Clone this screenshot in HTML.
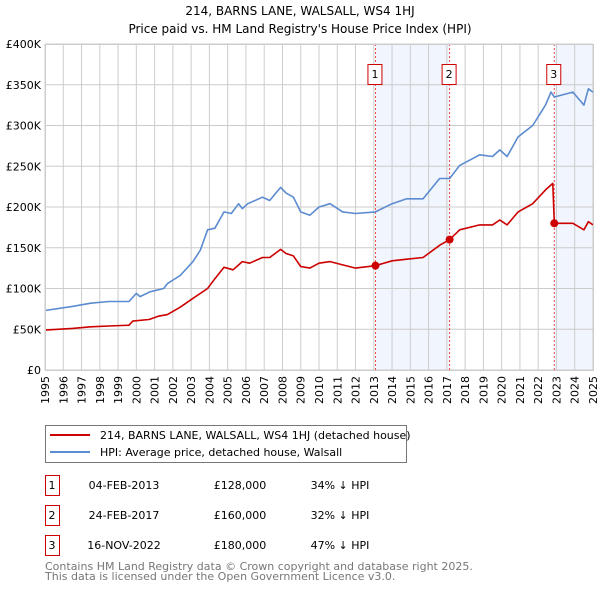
<!DOCTYPE html>
<html><head><meta charset="utf-8"><style>
body{margin:0;background:#fff;font-family:"DejaVu Sans","Liberation Sans",sans-serif;}
svg text{font-family:"DejaVu Sans","Liberation Sans",sans-serif;}
</style></head><body>
<svg id="chart" width="600" height="590" xmlns="http://www.w3.org/2000/svg">
<text x="300" y="15" text-anchor="middle" font-size="12" fill="#000">214, BARNS LANE, WALSALL, WS4 1HJ</text>
<text x="300" y="33" text-anchor="middle" font-size="12" fill="#000">Price paid vs. HM Land Registry's House Price Index (HPI)</text>
<g id="plot"></g>
<g>
<rect x="45.5" y="425.5" width="361" height="37" fill="#fff" stroke="#777"/>
<line x1="50" y1="435" x2="90" y2="435" stroke="#cc0000" stroke-width="2"/>
<text x="100" y="439" font-size="11">214, BARNS LANE, WALSALL, WS4 1HJ (detached house)</text>
<line x1="50" y1="452" x2="90" y2="452" stroke="#5b8bd0" stroke-width="2"/>
<text x="100" y="456" font-size="11">HPI: Average price, detached house, Walsall</text>
</g>
<g id="table" font-size="11"></g>
<text x="45" y="570" font-size="11" fill="#777">Contains HM Land Registry data © Crown copyright and database right 2025.</text>
<text x="45" y="580" font-size="11" fill="#777">This data is licensed under the Open Government Licence v3.0.</text>
</svg>
<script>
const yTicks=[0,50,100,150,200,250,300,350,400];
const yTickLabels=["£0","£50K","£100K","£150K","£200K","£250K","£300K","£350K","£400K"];
const xYears=[1995,1996,1997,1998,1999,2000,2001,2002,2003,2004,2005,2006,2007,2008,2009,2010,2011,2012,2013,2014,2015,2016,2017,2018,2019,2020,2021,2022,2023,2024,2025];
const hpiT=[1995,1996.5,1997.5,1998.5,1999.6,2000,2000.2,2000.75,2001.5,2001.7,2002.4,2003.1,2003.5,2003.9,2004.3,2004.8,2005.2,2005.6,2005.8,2006.1,2006.9,2007.3,2007.9,2008.2,2008.6,2009.0,2009.5,2010.0,2010.6,2011.3,2012.0,2013.09,2014.0,2014.8,2015.7,2016.6,2017.15,2017.7,2018.8,2019.5,2019.9,2020.3,2020.9,2021.7,2022.4,2022.7,2022.88,2023.9,2024.5,2024.75,2025.0];
const hpiV=[73,78,82,84,84,94,90,96,100,106,116,133,147,172,174,194,192,204,198,204,212,208,224,217,212,194,190,200,204,194,192,194,204,210,210,235,235,251,264,262,270,262,286,300,325,341,335,341,325,345,341];
const priceT=[1995,1996.5,1997.5,1998.5,1999.6,1999.8,2000.7,2001.2,2001.7,2002.4,2003.1,2003.9,2004.3,2004.8,2005.3,2005.8,2006.2,2006.9,2007.3,2007.9,2008.2,2008.6,2009.0,2009.5,2010.0,2010.6,2011.3,2012.0,2013.09,2014.0,2014.8,2015.7,2016.6,2017.15,2017.7,2018.8,2019.5,2019.9,2020.3,2020.9,2021.7,2022.4,2022.8,2022.88,2023.9,2024.5,2024.75,2025.0];
const priceV=[49,51,53,54,55,60,62,66,68,77,88,100,112,126,123,133,131,138,138,148,143,140,127,125,131,133,129,125,128,134,136,138,153,160,172,178,178,184,178,194,204,221,229,180,180,172,182,178];
const saleT=[2013.09,2017.15,2022.88];
const saleV=[128,160,180];
const saleLabels=["1","2","3"];
const saleDates=["04-FEB-2013","24-FEB-2017","16-NOV-2022"];
const salePrices=["£128,000","£160,000","£180,000"];
const saleDiffs=["34% ↓ HPI","32% ↓ HPI","47% ↓ HPI"];

const X0=45,X1=593,Y0=370,Y1=44;
const xs=t=>X0+(t-1995)/30*(X1-X0);
const ys=v=>Y0-v/400*(Y0-Y1);
const NS="http://www.w3.org/2000/svg";
const plot=document.getElementById('plot');
function mk(tag,attrs,parent){const e=document.createElementNS(NS,tag);for(const k in attrs)e.setAttribute(k,attrs[k]);(parent||plot).appendChild(e);return e;}
// shading
let sh=mk('rect',{x:xs(saleT[0]),y:Y1,width:xs(saleT[1])-xs(saleT[0]),height:Y0-Y1,fill:'#eef3fc',opacity:0.8});


let sh2=mk('rect',{x:xs(saleT[2]),y:Y1,width:X1-xs(saleT[2]),height:Y0-Y1,fill:'#eef3fc',opacity:0.8});


// grid
for(let i=0;i<yTicks.length;i++){
 const y=ys(yTicks[i]);
 let g=mk('line',{x1:X0,x2:X1,y1:y,y2:y,stroke:'#cccccc','stroke-width':1});
 
 
 let t=mk('text',{x:X0-4,y:y+4,'text-anchor':'end','font-size':11,fill:'#000'});
 t.textContent=yTickLabels[i];
 
 
}
for(let i=0;i<xYears.length;i++){
 const x=xs(xYears[i]);
 let g=mk('line',{x1:x,x2:x,y1:Y1,y2:Y0,stroke:'#cccccc','stroke-width':1});
 
 
 let t=mk('text',{x:x+4,y:Y0+6,'text-anchor':'end','font-size':11,fill:'#000',transform:`rotate(-90 ${x+4} ${Y0+6})`});
 t.textContent=xYears[i];
 
 
}
// sale vlines & labels
for(let i=0;i<saleT.length;i++){
 const x=xs(saleT[i]);
 let l=mk('line',{x1:x,x2:x,y1:Y1,y2:Y0,stroke:'#ee4444','stroke-width':1,'stroke-dasharray':'2,2'});
 
 
 let b=mk('rect',{x:x-7.5,y:64.5,width:14,height:20,fill:'#fff',stroke:'#cc0000'});
 
 
 let t=mk('text',{x:x-0.5,y:78,'text-anchor':'middle','font-size':11});
 t.textContent=saleLabels[i];
 
 
}
function path(T,V,color,name){
 let d=T.map((t,i)=>(i?'L':'M')+xs(t).toFixed(1)+','+ys(V[i]).toFixed(1)).join('');
 let p=mk('path',{d:d,fill:'none',stroke:color,'stroke-width':1.6,'stroke-linejoin':'round'});
 
 
}
path(hpiT,hpiV,'#5b8bd0','hpi-line');
path(priceT,priceV,'#cc0000','price-paid-line');
for(let i=0;i<saleT.length;i++){
 let c=mk('circle',{cx:xs(saleT[i]),cy:ys(saleV[i]),r:4,fill:'#cc0000'});
 
 
}
let ax=mk('rect',{x:X0+0.5,y:Y1+0.5,width:X1-X0,height:Y0-Y1,fill:'none',stroke:'#cccccc'});


// table
const tb=document.getElementById('table');
for(let i=0;i<saleT.length;i++){
 const y=475+i*30;
 let b=mk('rect',{x:45.5,y:y+0.5,width:14,height:20,fill:'#fff',stroke:'#cc0000'},tb);
 
 
 const cells=[[52,saleLabels[i],'middle','table-row-number'],[124,saleDates[i],'middle','table-row-date'],[240,salePrices[i],'middle','table-row-price'],[340,saleDiffs[i],'middle','table-row-diff']];
 for(const c of cells){
  let t=mk('text',{x:c[0],y:y+14,'text-anchor':c[2]},tb);
  t.textContent=c[1];
  
  
 }
}
</script>
</body></html>
